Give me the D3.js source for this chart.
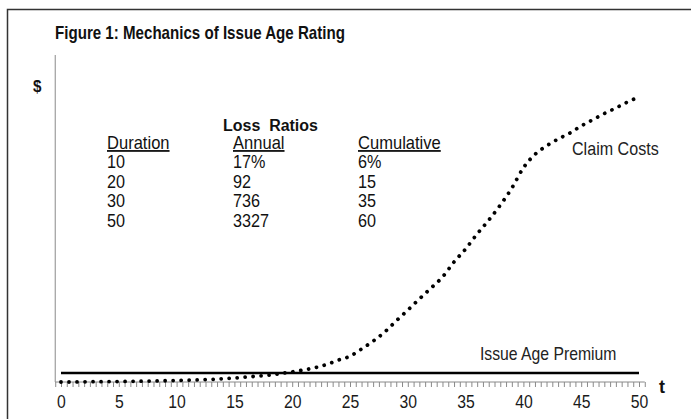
<!DOCTYPE html>
<html>
<head>
<meta charset="utf-8">
<script src="https://cdn.jsdelivr.net/npm/d3@7"></script>
<style>
body { margin: 0; background: #fff; }
text { font-family: Arial, "Liberation Sans", sans-serif; }
</style>
</head>
<body>
<script>

// claim cost curve (t, cost in arbitrary $ units)
var claimT    = [0,1,2,3,4,5,6,7,8,9,10,11,12,13,14,15,16,17,18,19,20,21,22,23,24,25,
                 26,27,28,29,30,31,32,33,34,35,36,37,38,39,40,41,42,43,44,45,46,47,48,49,50];
var claimCost = [0,0,0.05,0.1,0.12,0.15,0.2,0.25,0.3,0.38,0.46,0.55,0.65,0.8,1.0,1.2,1.5,1.8,2.1,2.6,3.1,3.7,4.4,5.4,6.7,7.9,
                 10.1,12.5,15.3,18.7,22.0,25.4,28.7,32.1,36.7,40.7,45.3,49.5,54.1,59.3,65.5,69.6,72.2,74.3,76.1,78.3,80.2,82.1,83.8,85.6,87.2];

var premiumT     = [0, 50];
var premiumValue = [2.75, 2.75];

var xLabels = [0,5,10,15,20,25,30,35,40,45,50];

// table text
var tableHeads = ["Duration", "Annual", "Cumulative"];
var durations  = ["10", "20", "30", "50"];
var annualLR   = ["17%", "92", "736", "3327"];
var cumulLR    = ["6%", "15", "35", "60"];

var W = 691, H = 419;

var svg = d3.select("body").append("svg")
            .attr("width", W)
            .attr("height", H);

// outer frame
svg.append("rect")
   .attr("x", 7.5).attr("y", 9.5)
   .attr("width", 720).attr("height", 500)
   .style("fill", "none")
   .style("stroke", "#333")
   .style("stroke-width", 1.5);

var x = d3.scaleLinear().domain([0, 50]).range([61, 639]);
var y = d3.scaleLinear().domain([0, 100]).range([382, 55]);

// text squeezed a little sideways, like the picture
function label(px, py, str, size, bold, sx, fill){
  return svg.append("text")
            .attr("transform", "translate(" + px + "," + py + ") scale(" + sx + ",1)")
            .style("font-size", size + "px")
            .style("font-weight", bold ? "bold" : "normal")
            .style("fill", fill || "#111")
            .text(str);
}

// minor ticks every half unit
var minorTicks = d3.range(-0.5, 50.6, 0.5);

var xAxis = svg.append("g")
               .attr("transform", "translate(0," + y(0) + ")")
               .call(d3.axisBottom(x).tickValues(minorTicks).tickSize(5).tickSizeOuter(0).tickFormat(""));
xAxis.select(".domain").attr("d", "M" + x(-0.5) + ",0H" + x(50.5));
xAxis.selectAll("line, path").style("stroke", "#8a8a8a");

var xLab = svg.append("g")
              .attr("transform", "translate(0," + y(0) + ")")
              .call(d3.axisBottom(x).tickValues(xLabels).tickSize(0).tickPadding(14));
xLab.select(".domain").remove();
xLab.selectAll("text")
    .attr("transform", "scale(0.9,1)")
    .style("font-size", "17.5px")
    .style("font-family", "Arial, 'Liberation Sans', sans-serif")
    .style("fill", "#1a1a1a");

// y axis is only a line
svg.append("line")
   .attr("x1", x(-0.5)).attr("x2", x(-0.5))
   .attr("y1", y(100)).attr("y2", y(0))
   .style("stroke", "#8a8a8a")
   .style("stroke-width", 1);

// premium line
var premData = premiumT.map(function(t, i){ return {t: t, v: premiumValue[i]}; });
var line = d3.line()
             .x(function(d){ return x(d.t); })
             .y(function(d){ return y(d.v); });

svg.append("path")
   .datum(premData)
   .attr("d", line)
   .style("fill", "none")
   .style("stroke", "#000")
   .style("stroke-width", 2.6);

// claim cost curve, round dots
var claimData = claimT.map(function(t, i){ return {t: t, v: claimCost[i]}; });
svg.append("path")
   .datum(claimData)
   .attr("d", line.curve(d3.curveMonotoneX))
   .style("fill", "none")
   .style("stroke", "#000")
   .style("stroke-width", 3.8)
   .style("stroke-linecap", "round")
   .style("stroke-dasharray", "0.01 8");

// title
label(55, 39, "Figure 1: Mechanics of Issue Age Rating", 18, true, 0.84);
label(33, 92, "$", 16, true, 0.95);
label(659, 393, "t", 18, true, 1);

// series labels
label(572, 155, "Claim Costs", 17.5, false, 0.92, "#222");
label(480, 360, "Issue Age Premium", 17.5, false, 0.9, "#222");

// loss ratio table
label(223, 131, "Loss  Ratios", 17, true, 0.94)
   .attr("xml:space", "preserve")
   .style("white-space", "pre");

var colX = [107, 233, 358];
var rowY = [149, 168, 187.5, 207, 226.5];

tableHeads.forEach(function(h, i){
  label(colX[i], rowY[0], h, 18, false, 0.92).style("text-decoration", "underline");
});

var cols = [durations, annualLR, cumulLR];
cols.forEach(function(col, ci){
  col.forEach(function(v, ri){
    label(colX[ci], rowY[ri + 1], v, 18, false, 0.9);
  });
});

</script>
</body>
</html>
